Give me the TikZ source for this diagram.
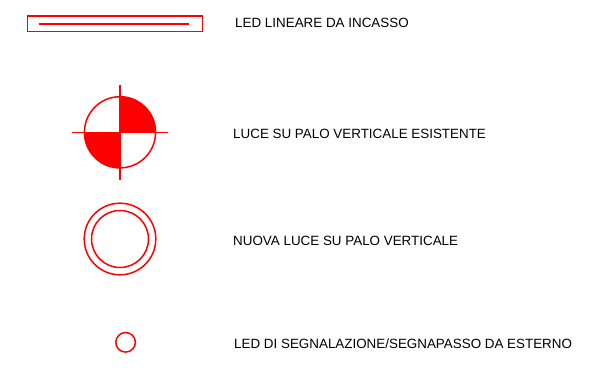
\documentclass[tikz,border=0pt]{standalone}
\usepackage{fontspec}
\setmainfont{Liberation Sans}
\definecolor{cadred}{RGB}{255,0,0}
\tikzset{
  sym/.style={draw=cadred,line width=1.5pt},
  lab/.style={anchor=west,inner sep=0pt,font=\fontsize{13.4pt}{15pt}\selectfont,text=black}
}
\begin{document}
\begin{tikzpicture}[x=1pt,y=-1pt]
\useasboundingbox (0,0) rectangle (605,382);
\fill[white] (0,0) rectangle (605,382);
\draw[sym] (27.3,16.2) rectangle (202.5,31.7);
\draw[sym] (38.5,24) -- (188.5,24);
\fill[cadred] (120,132.3) -- (120,96.3) arc (-90:0:36) -- cycle;
\fill[cadred] (120,132.3) -- (120,168.3) arc (90:180:36) -- cycle;
\draw[sym] (120,132.3) circle (35.6);
\draw[sym] (72,132.3) -- (168,132.3);
\draw[sym] (119.8,85) -- (119.8,180.5);
\draw[sym] (120,239) circle (35.8);
\draw[sym] (120,239) circle (28.5);
\draw[sym] (125.6,342.3) circle (9.8);
\node[lab] (a) at (235,23) {LED LINEARE DA INCASSO};
\node[lab] (b) at (233,134) {LUCE SU PALO VERTICALE ESISTENTE};
\node[lab] (c) at (233,241) {NUOVA LUCE SU PALO VERTICALE};
\node[lab] (d) at (234,344) {LED DI SEGNALAZIONE/SEGNAPASSO DA ESTERNO};
\end{tikzpicture}
\end{document}
